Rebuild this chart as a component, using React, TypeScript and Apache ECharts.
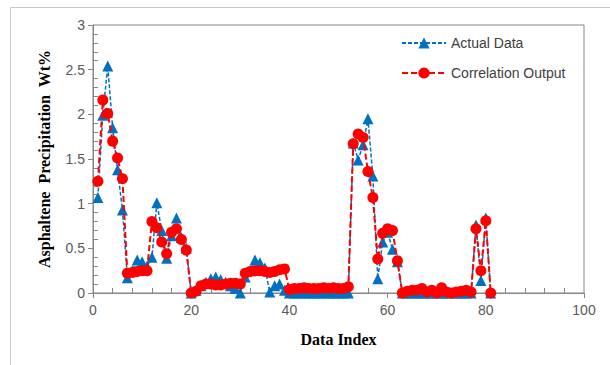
import React, { useEffect, useRef } from "react";
import * as echarts from "echarts";

const actualData = [
  1.07, 1.99, 2.54, 1.85, 1.38, 0.93, 0.17, 0.25, 0.37, 0.35,
  0.3, 0.4, 1.01, 0.7, 0.39, 0.64, 0.84, 0.62, 0.5, 0.0,
  0.03, 0.08, 0.12, 0.16, 0.18, 0.15, 0.12, 0.08, 0.05, 0.0,
  0.18, 0.25, 0.37, 0.34, 0.28, 0.01, 0.08, 0.1, 0.03, 0.0,
  0.0, 0.0, 0.0, 0.0, 0.0, 0.0, 0.0, 0.0, 0.0, 0.0,
  0.0, 0.0, 1.68, 1.49, 1.66, 1.95, 1.31, 0.16, 0.57, 0.68,
  0.49, 0.35, 0.0, 0.0, 0.0, 0.0, 0.0, 0.0, 0.0, 0.0,
  0.0, 0.0, 0.0, 0.0, 0.0, 0.0, 0.0, 0.76, 0.14, 0.84,
  0.0,
];

const correlationData = [
  1.25, 2.16, 2.01, 1.7, 1.51, 1.28, 0.22, 0.23, 0.24, 0.25,
  0.25, 0.8, 0.73, 0.57, 0.44, 0.68, 0.72, 0.6, 0.48, 0.0,
  0.02, 0.08, 0.1, 0.1, 0.09, 0.09, 0.1, 0.11, 0.11, 0.1,
  0.22, 0.24, 0.25, 0.25, 0.24, 0.23, 0.24, 0.26, 0.27, 0.04,
  0.05, 0.05, 0.06, 0.05, 0.05, 0.05, 0.06, 0.05, 0.06, 0.05,
  0.05, 0.07, 1.67, 1.78, 1.74, 1.36, 1.07, 0.38, 0.67, 0.72,
  0.7, 0.36, 0.0, 0.02, 0.03, 0.03, 0.05, 0.01, 0.03, 0.0,
  0.06, 0.01, 0.0, 0.01, 0.02, 0.03, 0.01, 0.72, 0.25, 0.81,
  0.0,
];

const seriesNames = ["Actual Data", "Correlation Output"];
const xTicks = { min: 0, max: 100, interval: 20 };
const yTicks = { min: 0, max: 3, interval: 0.5 };

const toPoints = (arr: number[]) => arr.map((v, i) => [i + 1, v]);

export default function App() {
  const ref = useRef<HTMLDivElement>(null);
  useEffect(() => {
    if (!ref.current) return;
    const chart = echarts.init(ref.current, null, { renderer: "svg" });
    const axisColor = "#868686";
    const labelStyle = {
      color: "#595959",
      fontFamily: "Liberation Sans",
      fontSize: 14,
    };
    chart.setOption({
      animation: false,
      backgroundColor: "#ffffff",
      graphic: [
        {
          type: "rect",
          shape: { x: 10.5, y: 7.5, width: 640, height: 400 },
          style: { fill: "none", stroke: "#c8c8c8", lineWidth: 1 },
          silent: true,
        },
      ],
      grid: {
        left: 93,
        right: 26,
        top: 25,
        bottom: 72,
        show: true,
        borderColor: axisColor,
        borderWidth: 1,
        backgroundColor: "transparent",
      },
      legend: {
        orient: "vertical",
        left: 396,
        top: 31,
        itemWidth: 44,
        itemHeight: 14,
        itemGap: 16,
        textStyle: {
          color: "#404040",
          fontFamily: "Liberation Sans",
          fontSize: 14,
        },
        data: seriesNames,
      },
      xAxis: {
        type: "value",
        min: xTicks.min,
        max: xTicks.max,
        interval: xTicks.interval,
        name: "Data Index",
        nameLocation: "middle",
        nameGap: 38,
        nameTextStyle: {
          fontFamily: "Liberation Serif",
          fontWeight: "bold",
          fontSize: 16,
          color: "#000000",
        },
        axisLine: { show: true, lineStyle: { color: axisColor, width: 1 } },
        axisTick: { show: true, length: 5, lineStyle: { color: axisColor } },
        minorTick: { show: true, splitNumber: 5, length: -5, lineStyle: { color: axisColor } },
        axisLabel: { ...labelStyle, margin: 10 },
        splitLine: { show: false },
      },
      yAxis: {
        type: "value",
        min: yTicks.min,
        max: yTicks.max,
        interval: yTicks.interval,
        name: "Asphaltene  Precipitation  Wt%",
        nameLocation: "middle",
        nameGap: 41,
        nameTextStyle: {
          fontFamily: "Liberation Serif",
          fontWeight: "bold",
          fontSize: 16,
          color: "#000000",
        },
        axisLine: { show: true, lineStyle: { color: axisColor, width: 1 } },
        axisTick: { show: true, length: 5, lineStyle: { color: axisColor } },
        minorTick: { show: true, splitNumber: 5, length: -5, lineStyle: { color: axisColor } },
        axisLabel: { ...labelStyle, margin: 8 },
        splitLine: { show: false },
      },
      series: [
        {
          name: seriesNames[0],
          type: "line",
          data: toPoints(actualData),
          symbol: "triangle",
          symbolSize: 11,
          itemStyle: { color: "#0070C0" },
          lineStyle: { color: "#0070C0", width: 1.5, type: [4, 2] },
          z: 2,
        },
        {
          name: seriesNames[1],
          type: "line",
          data: toPoints(correlationData),
          symbol: "circle",
          symbolSize: 11,
          itemStyle: { color: "#FF0000" },
          lineStyle: { color: "#FF0000", width: 2, type: [6, 3] },
          z: 3,
        },
      ],
    });
    return () => chart.dispose();
  }, []);
  return (
    <div
      ref={ref}
      style={{ position: "fixed", left: 0, top: 0, width: 610, height: 365 }}
    />
  );
}
